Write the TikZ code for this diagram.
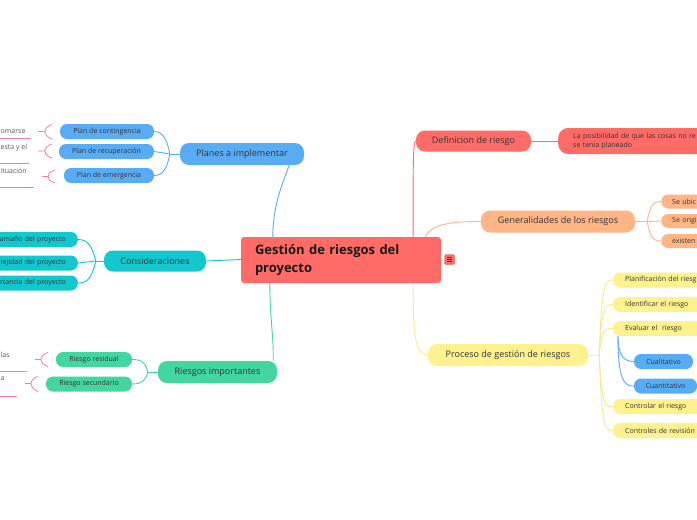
\documentclass[tikz,border=0pt]{standalone}
\usepackage{fontspec}
\setmainfont{Open Sans}
\definecolor{cred}{HTML}{FF6B66}
\definecolor{cblue}{HTML}{58ACF4}
\definecolor{cteal}{HTML}{12C8CE}
\definecolor{cgreen}{HTML}{44D6A0}
\definecolor{corange}{HTML}{FFB584}
\definecolor{cyellow}{HTML}{FFF18E}
\definecolor{cyline}{HTML}{FBEA86}
\definecolor{cpink}{HTML}{F27BA8}
\definecolor{ctext}{HTML}{333333}
\newcommand{\mmsmall}{\fontsize{7}{8.5}\selectfont}
\newcommand{\mmmid}{\fontsize{9}{11}\selectfont}
\tikzset{
  central/.style={fill=cred, rounded corners=3, inner sep=0pt, text=black!90,
    font=\fontsize{13}{18}\selectfont\bfseries},
  topic/.style={rounded corners=9, inner sep=0pt, minimum height=22, text=ctext, font=\mmmid},
  leaf/.style={rounded corners=7, inner sep=0pt, minimum height=15, text=ctext, font=\mmsmall},
  frag/.style={inner sep=0pt, text=black!65, font=\mmsmall},
  conn/.style={line width=0.9pt},
  hook/.style={cpink, line width=0.8pt},
}
\begin{document}
\begin{tikzpicture}[x=1pt,y=-1pt]
\clip (0,0) rectangle (697,520);
\fill[white] (0,0) rectangle (697,520);

% ---------- central ----------
\node[central, minimum width=200, minimum height=46, text width=172, align=left] (root) at (341,260)
  {Gestión de riesgos del\\proyecto};
\node[fill=cred, draw=cred!80!black, line width=0.4pt, rounded corners=1.5, minimum width=10, minimum height=10, inner sep=0pt] (icon) at (449.5,259.5) {};
\foreach \yy in {-2.3,0,2.3}
  \draw[black!75, line width=0.7pt] ([xshift=-2.8,yshift=\yy]icon.center) -- ([xshift=2.8,yshift=\yy]icon.center);

% ---------- Planes a implementar ----------
\node[topic, fill=cblue, minimum width=124] (planes) at (242,154) {Planes a implementar};
\node[leaf, fill=cblue, minimum width=94] (cont) at (107,131.5) {Plan de contingencia};
\node[leaf, fill=cblue, minimum width=95] (recu) at (106.5,151.5) {Plan de recuperación};
\node[leaf, fill=cblue, minimum width=90] (emer) at (109,175.5) {Plan de emergencia};
\coordinate (pb) at ([xshift=-10]planes.west);
\draw[conn, cblue] (planes.west) -- (pb);
\draw[conn, cblue] (pb) .. controls (167,138) and (162,131.5) .. (cont.east);
\draw[conn, cblue] (pb) -- (recu.east);
\draw[conn, cblue] (pb) .. controls (167,170) and (162,175.5) .. (emer.east);
\draw[conn, cblue] ([xshift=-15]planes.south east) .. controls (282,185) and (273,205) .. ([xshift=32]root.north west);

% fragments left of Planes children
\node[frag, anchor=west] (f1) at (0.5,131.5) {omarse};
\node[frag, anchor=west] (f2) at (0.5,148) {esta y el};
\node[frag, anchor=west] (f3) at (0.5,171) {ituación};
\draw[hook] (0,138) -- (31,138);
\draw[hook] (0,163) -- (29,163);
\draw[hook] (0,187.5) -- (34,187.5);
\draw[hook] (38,131.5) -- (45,131.5) (52,124.5) .. controls (47,126) and (45,129) .. (45,131.5) .. controls (45,134) and (47,137.5) .. (52,139);
\draw[hook] (38,151) -- (45,151) (52,144) .. controls (47,145.5) and (45,148.5) .. (45,151) .. controls (45,153.5) and (47,156.5) .. (52,158);
\draw[hook] (42,176.5) -- (48,176.5) (55,170) .. controls (50,171.5) and (48,174) .. (48,176.5) .. controls (48,179) and (50,181.5) .. (55,183);

% ---------- Consideraciones ----------
\node[topic, fill=cteal, minimum width=102, minimum height=21] (cons) at (155,261) {Consideraciones};
\node[leaf, fill=cteal, anchor=east, text width=80, align=right, inner xsep=12] (tam) at (78,239.5) {amaño del proyecto};
\node[leaf, fill=cteal, anchor=east, text width=80, align=right, inner xsep=12] (comp) at (78,263) {lejidad del proyecto};
\node[leaf, fill=cteal, anchor=east, text width=80, align=right, inner xsep=12] (impo) at (78,283) {rtancia del proyecto};
\coordinate (cb) at ([xshift=-8]cons.west);
\draw[conn, cteal] (cons.west) -- (cb);
\draw[conn, cteal] (cb) .. controls (92,246) and (88,239.5) .. (tam.east);
\draw[conn, cteal] (cb) -- (comp.east);
\draw[conn, cteal] (cb) .. controls (92,277) and (88,283) .. (impo.east);
\draw[conn, cteal] (cons.east) -- ([yshift=0.5]root.west);

% ---------- Riesgos importantes ----------
\node[topic, fill=cgreen, minimum width=119] (rimp) at (217.5,372) {Riesgos importantes};
\node[leaf, fill=cgreen, minimum width=76] (resid) at (94,359.5) {Riesgo residual};
\node[leaf, fill=cgreen, minimum width=86] (secu) at (89,384) {Riesgo secundario};
\coordinate (rb) at ([xshift=-10]rimp.west);
\draw[conn, cgreen] (rimp.west) -- (rb);
\draw[conn, cgreen] (rb) .. controls (146,363) and (142,359.5) .. (resid.east);
\draw[conn, cgreen] (rb) .. controls (146,380) and (142,384) .. (secu.east);
\draw[conn, cgreen] ([xshift=29]root.south west) .. controls (270,320) and (274,340) .. ([xshift=-4]rimp.north east);

\node[frag, anchor=west] (f4) at (0.5,355) {las};
\node[frag, anchor=west] (f5) at (0.5,379) {a};
\draw[hook] (0,371.7) -- (27,371.7);
\draw[hook] (0,396) -- (17,396);
\draw[hook] (35,359.5) -- (41,359.5) (48,352.5) .. controls (43,354) and (41,357) .. (41,359.5) .. controls (41,362) and (43,365) .. (48,366.5);
\draw[hook] (25,383.5) -- (31,383.5) (38,376.5) .. controls (33,378) and (31,381) .. (31,383.5) .. controls (31,386) and (33,389.5) .. (38,391.5);

% ---------- Definicion de riesgo ----------
\node[topic, fill=cred, minimum width=115, minimum height=21] (defin) at (473.5,141) {Definicion de riesgo};
\node[leaf, fill=cred, anchor=west, minimum height=26, rounded corners=10, text width=160, align=left, inner xsep=15] (posib) at (558,141)
  {La posibilidad de que las cosas no re\\se tenia planeado};
\draw[conn, cred] (defin.east) -- (posib.west);
\draw[conn, cred] ([xshift=-28]root.north east) .. controls (413,165) and (413,141) .. (defin.west);

% ---------- Generalidades ----------
\node[topic, fill=corange, minimum width=154] (gener) at (558,221.5) {Generalidades de los riesgos};
\node[leaf, fill=corange, minimum height=14, anchor=west, text width=60, align=left, inner xsep=11] (seubic) at (661,201.5) {Se ubic};
\node[leaf, fill=corange, minimum height=14, anchor=west, text width=60, align=left, inner xsep=11] (seorig) at (661,221) {Se origi};
\node[leaf, fill=corange, minimum height=14, anchor=west, text width=60, align=left, inner xsep=11] (exist) at (661,241) {existen};
\coordinate (gb) at ([xshift=12]gener.east);
\draw[conn, corange] (gener.east) -- (gb);
\draw[conn, corange] (gb) .. controls (650,206) and (653,201.5) .. (seubic.west);
\draw[conn, corange] (gb) -- (seorig.west);
\draw[conn, corange] (gb) .. controls (650,237) and (653,241) .. (exist.west);
\draw[conn, corange] ([xshift=-16]root.north east) .. controls (432,224) and (450,221.5) .. (gener.west);

% ---------- Proceso ----------
\node[topic, fill=cyellow, minimum width=160] (proc) at (508,355) {Proceso de gestión de riesgos};
\node[leaf, fill=cyellow, anchor=west, text width=110, align=left, inner xsep=12] (planif) at (613,280) {Planificación del riesg};
\node[leaf, fill=cyellow, anchor=west, text width=110, align=left, inner xsep=12] (ident) at (613,304.5) {Identificar el riesgo};
\node[leaf, fill=cyellow, anchor=west, text width=110, align=left, inner xsep=12] (evalu) at (613,328.5) {Evaluar el~ riesgo};
\node[leaf, fill=cyellow, anchor=west, text width=110, align=left, inner xsep=12] (contr) at (613,406.5) {Controlar el riesgo};
\node[leaf, fill=cyellow, anchor=west, text width=110, align=left, inner xsep=12] (revis) at (613,430.5) {Controles de revisión};
\node[leaf, fill=cblue, minimum width=59] (cuali) at (663.5,361.5) {Cualitativo};
\node[leaf, fill=cblue, minimum width=63] (cuant) at (665.5,386) {Cuantitativo};
\coordinate (yb) at ([xshift=11]proc.east);
\draw[conn, cyline] (proc.east) -- (yb);
\foreach \n/\yy in {planif/280, ident/304.5, evalu/328.5, contr/406.5, revis/430.5}
  \draw[conn, cyline] (yb) .. controls (602,\yy) and (605,\yy) .. (\n.west);
\draw[conn, cyline] ([xshift=-28]root.south east) .. controls (413,340) and (416,355) .. (proc.west);
\draw[conn, cblue] ([xshift=5]evalu.south west) .. controls (618,356) and (624,361.5) .. (cuali.west);
\draw[conn, cblue] ([xshift=5]evalu.south west) .. controls (618,380) and (624,386) .. (cuant.west);
\end{tikzpicture}
\end{document}
